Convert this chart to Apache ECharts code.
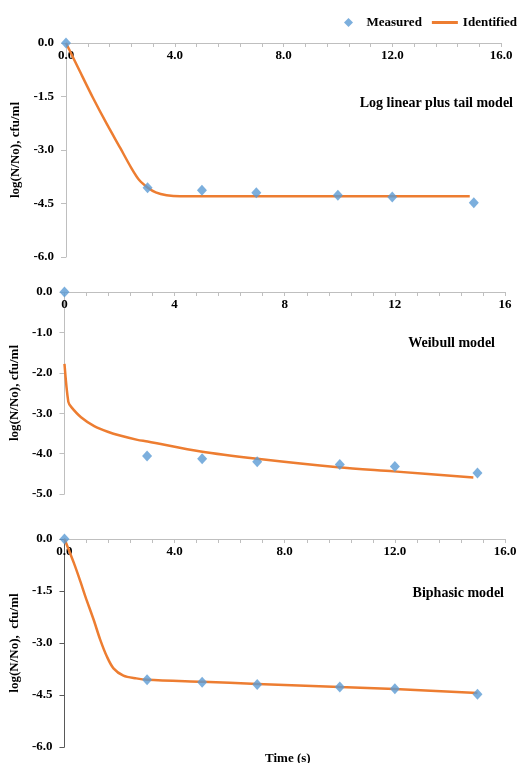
<!DOCTYPE html>
<html>
<head>
<meta charset="utf-8">
<script src="https://cdn.jsdelivr.net/npm/echarts@6/dist/echarts.min.js"></script>
<style>
  html, body { margin: 0; padding: 0; background: #fff; }
  #main { width: 524px; height: 763px; }
</style>
</head>
<body>
<div id="main"></div>
<script>
// measured points (same in all three panels)
var measuredT = [0, 3, 5, 7, 10, 12, 15];
var measuredLog = [0, -4.06, -4.13, -4.2, -4.27, -4.32, -4.48];

// log linear plus tail fit
var tailT = [0, 0.5, 1.0, 1.5, 2.0, 2.4, 2.7, 3.0, 3.3, 3.7, 4.2, 6, 8, 10, 12, 14.85];
var tailLog = [0, -0.78, -1.55, -2.27, -2.95, -3.5, -3.85, -4.05, -4.19, -4.27, -4.3, -4.3, -4.3, -4.3, -4.3, -4.3];

// weibull fit
var weibullT = [0, 0.14, 0.25, 0.6, 1.08, 1.57, 2.05, 2.65, 3.02, 4.95, 7.0, 9.94, 11.95, 14.85];
var weibullLog = [-1.78, -2.72, -2.85, -3.1, -3.32, -3.46, -3.56, -3.66, -3.7, -3.95, -4.13, -4.34, -4.44, -4.59];

// biphasic fit
var biphasicT = [0, 0.34, 0.58, 0.76, 1.06, 1.3, 1.54, 1.78, 2.14, 2.61, 3.01, 5, 7, 10, 12, 15];
var biphasicLog = [0, -0.69, -1.23, -1.66, -2.33, -2.91, -3.39, -3.73, -3.94, -4.02, -4.06, -4.12, -4.18, -4.27, -4.33, -4.44];

var xTicks = [0, 16, 4];            // min, max, interval
var yTicks1 = [-6, 0, 1.5];
var yTicks2 = [-5, 0, 1];
var yTicks3 = [-6, 0, 1.5];

var FONT = "'Liberation Serif', 'DejaVu Serif', serif";
var BLUE = "#5B9BD5";
var ORANGE = "#ED7D31";

function pairs(xs, ys) {
  return xs.map(function (x, i) { return [x, ys[i]]; });
}

function xAxisFor(idx, decimals) {
  return {
    type: "value",
    gridIndex: idx,
    position: "top",
    min: xTicks[0],
    max: xTicks[1],
    interval: xTicks[2],
    axisLine: { lineStyle: { color: "#bfbfbf", width: 1 } },
    axisTick: { show: true, inside: true, length: 4, lineStyle: { color: "#bfbfbf" } },
    minorTick: { show: true, splitNumber: 5, length: 4, lineStyle: { color: "#bfbfbf" } },
    splitLine: { show: false },
    axisLabel: {
      inside: true,
      margin: 6,
      color: "#000",
      fontFamily: FONT,
      fontWeight: "bold",
      fontSize: 13,
      formatter: function (v) { return v.toFixed(decimals); }
    }
  };
}

function yAxisFor(idx, ticks, gap, lineColor) {
  return {
    type: "value",
    gridIndex: idx,
    min: ticks[0],
    max: ticks[1],
    interval: ticks[2],
    name: idx === 2 ? "log(N/No),  cfu/ml" : "log(N/No), cfu/ml",
    nameLocation: "middle",
    nameGap: gap,
    nameTextStyle: { color: "#000", fontFamily: FONT, fontWeight: "bold", fontSize: 13 },
    axisLine: { show: true, lineStyle: { color: lineColor, width: 1 } },
    axisTick: { show: true, length: 5, lineStyle: { color: lineColor } },
    splitLine: { show: false },
    axisLabel: {
      margin: 12,
      color: "#000",
      fontFamily: FONT,
      fontWeight: "bold",
      fontSize: 13,
      formatter: function (v) { return v.toFixed(1); }
    }
  };
}

function measuredSeries(idx) {
  return {
    name: "Measured",
    type: "scatter",
    xAxisIndex: idx,
    yAxisIndex: idx,
    symbol: "diamond",
    symbolSize: [10, 11],
    itemStyle: { color: BLUE },
    z: 3,
    data: pairs(measuredT, measuredLog)
  };
}

function fitSeries(idx, xs, ys) {
  return {
    name: "Identified",
    type: "line",
    xAxisIndex: idx,
    yAxisIndex: idx,
    symbol: "none",
    smooth: 0.3,
    lineStyle: { color: ORANGE, width: 2.5 },
    itemStyle: { color: ORANGE },
    z: 2,
    data: pairs(xs, ys)
  };
}

var modelTitle = function (text, right, top) {
  return {
    text: text,
    right: right,
    top: top,
    textStyle: { fontFamily: FONT, fontWeight: "bold", fontSize: 14, color: "#000" }
  };
};

var option = {
  backgroundColor: "#fff",
  animation: false,
  title: [
    modelTitle("Log linear plus tail model", 6, 91),
    modelTitle("Weibull model", 24, 331),
    modelTitle("Biphasic model", 15, 581),
    {
      text: "Time (s)",
      left: 260,
      top: 747,
      textStyle: { fontFamily: FONT, fontWeight: "bold", fontSize: 13, color: "#000" }
    }
  ],
  legend: {
    orient: "horizontal",
    top: 11,
    left: 339,
    width: 400,
    itemGap: 10,
    itemWidth: 26,
    itemHeight: 9,
    symbolKeepAspect: true,
    textStyle: { fontFamily: FONT, fontWeight: "bold", fontSize: 13, color: "#000" },
    data: [
      { name: "Measured", icon: "path://M5,0 L10,5 L5,10 L0,5 Z" },
      { name: "Identified", icon: "path://M0,0 L26,0 L26,3 L0,3 Z", itemStyle: { color: ORANGE } }
    ]
  },
  grid: [
    { left: 66, top: 43, width: 435, height: 214 },
    { left: 63, top: 292, width: 442, height: 202 },
    { left: 60, top: 539, width: 445, height: 208 }
  ],
  xAxis: [xAxisFor(0, 1), xAxisFor(1, 0), xAxisFor(2, 1)],
  yAxis: [
    yAxisFor(0, yTicks1, 34, "#bfbfbf"),
    yAxisFor(1, yTicks2, 31, "#bfbfbf"),
    yAxisFor(2, yTicks3, 29, "#595959")
  ],
  series: [
    fitSeries(0, tailT, tailLog),
    measuredSeries(0),
    fitSeries(1, weibullT, weibullLog),
    measuredSeries(1),
    fitSeries(2, biphasicT, biphasicLog),
    measuredSeries(2)
  ]
};

var myChart = echarts.init(document.getElementById("main"));
myChart.setOption(option);
</script>
</body>
</html>
